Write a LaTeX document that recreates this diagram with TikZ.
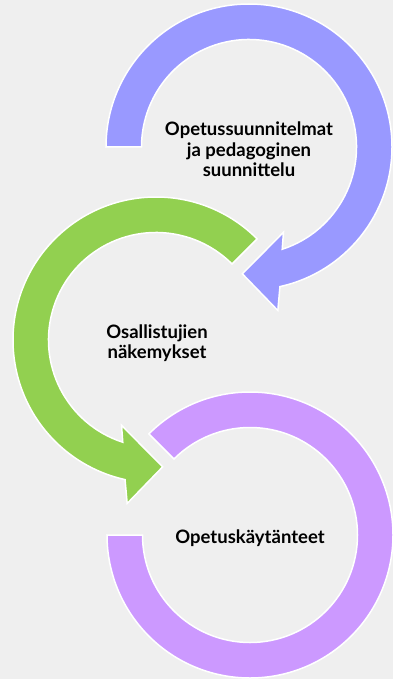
\documentclass[tikz,border=0pt]{standalone}
\usepackage{fontspec}
\setmainfont{Lato}
\usetikzlibrary{calc}
\definecolor{bgc}{HTML}{EFEFEF}
\definecolor{blueA}{HTML}{9999FF}
\definecolor{greenA}{HTML}{92D050}
\definecolor{purpleA}{HTML}{CC99FF}
\newcommand{\Ri}{107.5}
\newcommand{\Ro}{143}
\newcommand{\arrowpath}[1]{%
  (#1:\Ro) arc[start angle=#1, end angle=437.5, radius=\Ro]
  -- (80:166) -- (93:127) -- (68:92) -- (72:\Ri)
  arc[start angle=432, end angle=#1, radius=\Ri] -- cycle}
\tikzset{
  band/.style={draw=white, line width=1.5pt, line join=miter},
  lbl/.style={font=\bfseries\fontsize{18.5}{20.5}\selectfont, align=center, inner sep=0pt, text=black}
}
\begin{document}
\begin{tikzpicture}[x=1pt,y=-1pt]
  \fill[bgc] (0,0) rectangle (393,679);
  \useasboundingbox (0,0) rectangle (393,679);
  % blue
  \begin{scope}[shift={(249,147)}]
    \path[band, fill=blueA] \arrowpath{180};
  \end{scope}
  % green (mirrored)
  \begin{scope}[shift={(156,340)}, xscale=-1]
    \path[band, fill=greenA] \arrowpath{225};
  \end{scope}
  % purple
  \begin{scope}[shift={(250,535)}]
    \path[band, fill=purpleA] (225:\Ro) arc[start angle=225, end angle=540, radius=\Ro]
      -- (540:\Ri) arc[start angle=540, end angle=225, radius=\Ri] -- cycle;
  \end{scope}
  \node[lbl] (t1) at (249,149.5) {Opetussuunnitelmat\\ja pedagoginen\\suunnittelu};
  \node[lbl] (t2) at (157,343) {Osallistujien\\näkemykset};
  \node[lbl] (t3) at (250,538) {Opetuskäytänteet};
\end{tikzpicture}
\end{document}
